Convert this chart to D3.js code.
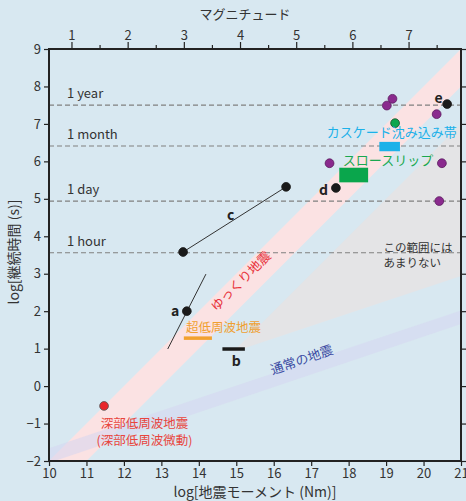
<!DOCTYPE html>
<html><head><meta charset="utf-8">
<script src="https://cdn.jsdelivr.net/npm/d3@7"></script>
<style>
html,body{margin:0;padding:0;background:#d8e8f1;}
svg{display:block;font-family:"Noto Sans CJK JP","Noto Sans",sans-serif;}
</style></head><body>
<svg id="c" width="466" height="501"></svg>
<script>
// ---- data ----
const xDomain = [10, 21];
const yDomain = [-2, 9];
const xTicks = d3.range(10, 22);
const yTicks = d3.range(-2, 10);
const magMajor = [1, 2, 3, 4, 5, 6, 7];
const magMinor = [1.5, 2.5, 3.5, 4.5, 5.5, 6.5, 7.5];
const durationLabels = ["1 year", "1 month", "1 day", "1 hour"];
const durationValues = [7.5, 6.41, 4.94, 3.56];
// slow earthquake band: logT = logM0 - offset
const slowBandOffsets = [12, 13];
// rare region: upper edge logT = logM0 - 14, lower edge slope 1/3 through (21, 2.94)
const rareUpperOffset = 14;
const rareLowerAnchor = [21, 2.94];
// regular earthquake band (slope 1/3)
const regularUpper = [[10, -1.66], [21, 2.02]];
const regularLower = [[10, -2.05], [21, 1.66]];
const lfePoints = [[11.47, -0.53]];
const blackPoints = [[13.68, 2.0], [13.58, 3.58], [16.33, 5.32], [17.66, 5.29], [20.63, 7.53]];
const purplePoints = [[17.49, 5.95], [19.02, 7.49], [19.17, 7.67], [20.35, 7.26], [20.49, 5.95], [20.42, 4.94]];
const greenPoints = [[19.24, 7.02]];
const lineA = [[13.17, 0.99], [14.19, 2.99]];
const lineC = [[13.58, 3.58], [16.33, 5.32]];
const cascadiaRect = [18.82, 19.37, 6.27, 6.52];
const slowSlipRect = [17.75, 18.52, 5.44, 5.83];
const vlfBar = [13.6, 14.35, 1.28];
const barB = [14.63, 15.23, 0.99];
const letterLabels = ["a", "b", "c", "d", "e"];
const letterPos = [[13.37, 2.0], [15.0, 0.67], [14.85, 4.57], [17.33, 5.24], [20.4, 7.7]];

// ---- drawing ----
const svg = d3.select("#c");
const x = d3.scaleLinear().domain(xDomain).range([49, 461]);
const y = d3.scaleLinear().domain(yDomain).range([461, 49]);
const mag2m0 = m => 1.5 * m + 9.1;

svg.append("defs").append("clipPath").attr("id", "clip")
  .append("rect").attr("x", x(10)).attr("y", y(9)).attr("width", x(21) - x(10)).attr("height", y(-2) - y(9));
const g = svg.append("g").attr("clip-path", "url(#clip)");
const line = d3.line().x(d => x(d[0])).y(d => y(d[1]));

// rare region (gray wedge)
const rareLow = m => rareLowerAnchor[1] + (m - rareLowerAnchor[0]) / 3;
const apexM = (rareLowerAnchor[1] - rareLowerAnchor[0] / 3 + rareUpperOffset) / (2 / 3);
const rarePoly = [[apexM, apexM - rareUpperOffset], [22, 22 - rareUpperOffset], [22, rareLow(22)]];
g.append("path").attr("d", line(rarePoly) + "Z").attr("fill", "#e4e4e6");

// slow band (pink)
const slowPoly = [[8, 8 - slowBandOffsets[0]], [23, 23 - slowBandOffsets[0]], [23, 23 - slowBandOffsets[1]], [8, 8 - slowBandOffsets[1]]];
g.append("path").attr("d", line(slowPoly) + "Z").attr("fill", "#fbe2e3");

// regular band (lavender)
const regPoly = regularUpper.concat(regularLower.slice().reverse());
g.append("path").attr("d", line(regPoly) + "Z").attr("fill", "#d6d6f0").attr("opacity", 0.55);

// duration lines
durationValues.forEach((v, i) => {
  svg.append("line").attr("x1", x(10)).attr("x2", x(21)).attr("y1", y(v)).attr("y2", y(v))
    .attr("stroke", "#808080").attr("stroke-width", 1.2).attr("stroke-dasharray", "5,3");
  svg.append("text").attr("x", 67).attr("y", y(v) - 7).text(durationLabels[i])
    .attr("font-size", 13).attr("fill", "#333");
});

// lines a, c
[lineA, lineC].forEach(l => g.append("path").attr("d", line(l)).attr("stroke", "#333").attr("stroke-width", 1).attr("fill", "none"));

// rectangles
const rect = (r, col) => svg.append("rect").attr("x", x(r[0])).attr("y", y(r[3])).attr("width", x(r[1]) - x(r[0])).attr("height", y(r[2]) - y(r[3])).attr("fill", col);
rect(cascadiaRect, "#1cb1e9");
rect(slowSlipRect, "#0aa64c");
svg.append("line").attr("x1", x(vlfBar[0])).attr("x2", x(vlfBar[1])).attr("y1", y(vlfBar[2])).attr("y2", y(vlfBar[2])).attr("stroke", "#f2a12e").attr("stroke-width", 3.5);
svg.append("line").attr("x1", x(barB[0])).attr("x2", x(barB[1])).attr("y1", y(barB[2])).attr("y2", y(barB[2])).attr("stroke", "#1a1a1a").attr("stroke-width", 3.5);

// points
const dots = (arr, fill, stroke) => svg.selectAll(null).data(arr).enter().append("circle")
  .attr("cx", d => x(d[0])).attr("cy", d => y(d[1])).attr("r", 4.4).attr("fill", fill).attr("stroke", stroke).attr("stroke-width", 0.8);
dots(lfePoints, "#e8262b", "#555");
dots(purplePoints, "#8a2a8e", "#5a1a5e");
dots(greenPoints, "#0ea64e", "#1a4a2a");
dots(blackPoints, "#1a1a1a", "#1a1a1a");

// letter labels
letterLabels.forEach((t, i) => svg.append("text").attr("x", x(letterPos[i][0])).attr("y", y(letterPos[i][1])).attr("dy", "0.35em")
  .attr("text-anchor", "middle").attr("font-size", 14).attr("font-weight", "bold").attr("fill", "#222").text(t));

// text annotations
const ann = (txt, px, py, col, size, rot) => svg.append("text").attr("transform", `translate(${px},${py}) rotate(${rot || 0})`)
  .attr("text-anchor", "middle").attr("dy", "0.35em").attr("font-size", size).attr("fill", col).text(txt);
ann("ゆっくり地震", x(15.12), y(2.8), "#e8323c", 13, -45);
ann("超低周波地震", x(14.66), y(1.56), "#f0a030", 12.5, 0);
ann("通常の地震", x(16.75), y(0.7), "#3b4aa3", 13, -19);
ann("深部低周波地震", x(12.55), y(-1.0), "#e8453d", 12.5, 0);
ann("(深部低周波微動)", x(12.55), y(-1.45), "#e8453d", 12.5, 0);
ann("カスケード沈み込み帯", x(19.15), y(6.77), "#1cb1e9", 13, 0);
ann("スロースリップ", x(19.05), y(6.02), "#1aa850", 13, 0);
ann("この範囲には", x(19.85), y(3.7), "#333", 11.5, 0);
ann("あまりない", x(19.7), y(3.3), "#333", 11.5, 0);

// axes
const axG = svg.append("g").attr("font-size", 13);
const styleAxis = sel => {
  sel.select(".domain").remove();
  sel.selectAll("line").attr("stroke", "#222").attr("stroke-width", 1.2);
  sel.selectAll("text").attr("fill", "#333").attr("font-size", 13).attr("font-family", "'Noto Sans CJK JP','Noto Sans',sans-serif");
};
axG.append("g").attr("transform", `translate(${x(10)},0)`).call(d3.axisLeft(y).tickValues(yTicks).tickSize(5).tickPadding(3)).call(styleAxis);
axG.append("g").attr("transform", `translate(${x(21)},0)`).call(d3.axisRight(y).tickValues(yTicks).tickSize(5).tickFormat("")).call(styleAxis);
axG.append("g").attr("transform", `translate(0,${y(-2)})`).call(d3.axisBottom(x).tickValues(xTicks).tickSize(5).tickPadding(3)).call(styleAxis);
const magX = d3.scaleLinear().domain([0, 1]).range([x(mag2m0(0)), x(mag2m0(1))]);
axG.append("g").attr("transform", `translate(0,${y(9)})`).call(d3.axisTop(magX).tickValues(magMajor).tickSize(7).tickPadding(2).tickFormat(d3.format("d"))).call(styleAxis);
axG.append("g").attr("transform", `translate(0,${y(9)})`).call(d3.axisTop(magX).tickValues(magMinor).tickSize(4).tickFormat("")).call(styleAxis);

// frame
svg.append("rect").attr("x", x(10)).attr("y", y(9)).attr("width", x(21) - x(10)).attr("height", y(-2) - y(9))
  .attr("fill", "none").attr("stroke", "#222").attr("stroke-width", 2);

// titles
svg.append("text").attr("x", 245).attr("y", 19).attr("text-anchor", "middle").attr("font-size", 13).attr("fill", "#333").text("マグニチュード");
svg.append("text").attr("x", 255).attr("y", 497).attr("text-anchor", "middle").attr("font-size", 14).attr("fill", "#333").text("log[地震モーメント (Nm)]");
svg.append("text").attr("transform", "translate(19,252) rotate(-90)").attr("text-anchor", "middle").attr("font-size", 14).attr("fill", "#333").text("log[継続時間 (s)]");
</script></body></html>
